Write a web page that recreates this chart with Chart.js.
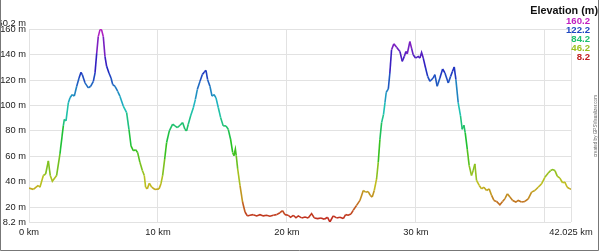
<!DOCTYPE html>
<html>
<head>
<meta charset="utf-8">
<script src="https://cdn.jsdelivr.net/npm/chart.js@4"></script>
<style>
    html, body { margin: 0; padding: 0; background: #fff; }
    #wrap { width: 600px; height: 252px; position: relative; }
</style>
</head>
<body>
<div id="wrap"><canvas id="profile" width="600" height="252"></canvas></div>
<script>
// Профиль высот: расстояние (км) и высота (м)
const distKm = [
    0, 0.34, 0.72, 0.85, 1.11, 1.29, 1.50, 1.65, 1.81, 2.14, 2.40, 2.66, 2.74, 2.87, 3.05, 3.18, 3.36, 3.51, 3.70, 3.88,
    4.03, 4.13, 4.34, 4.60, 4.78, 4.99, 5.12, 5.25, 5.37, 5.50, 5.56, 5.63, 5.76, 5.89, 6.02, 6.20, 6.36, 6.49, 6.67, 6.87,
    7.05, 7.31, 7.57, 7.75, 7.91, 8.09, 8.27, 8.42, 8.60, 8.79, 8.94, 9.04, 9.17, 9.33, 9.51, 9.77, 10.08, 10.23, 10.36, 10.52,
    10.67, 10.88, 11.14, 11.32, 11.50, 11.71, 11.91, 12.09, 12.22, 12.35, 12.53, 12.74, 12.90, 13.05, 13.26, 13.44, 13.60, 13.72, 13.85, 14.03,
    14.19, 14.34, 14.50, 14.68, 14.86, 15.06, 15.27, 15.45, 15.63, 15.79, 15.89, 16.00, 16.07, 16.18, 16.36, 16.56, 16.75, 16.93, 17.13, 17.39,
    17.65, 17.91, 18.17, 18.42, 18.68, 18.94, 19.20, 19.46, 19.66, 19.84, 20.10, 20.28, 20.49, 20.70, 20.88, 21.14, 21.40, 21.65, 21.91, 22.12,
    22.38, 22.64, 22.89, 23.15, 23.33, 23.59, 23.85, 24.11, 24.37, 24.55, 24.75, 24.96, 25.14, 25.40, 25.66, 25.92, 26.10, 26.30, 26.46, 26.61,
    26.77, 26.95, 27.08, 27.21, 27.34, 27.49, 27.60, 27.70, 27.86, 27.98, 28.11, 28.29, 28.50, 28.76, 28.94, 29.10, 29.22, 29.33, 29.53, 29.66,
    29.79, 29.97, 30.18, 30.31, 30.44, 30.57, 30.75, 30.91, 31.09, 31.34, 31.47, 31.65, 31.86, 32.07, 32.25, 32.51, 32.69, 32.84, 32.97, 33.10,
    33.28, 33.46, 33.59, 33.72, 33.82, 33.98, 34.13, 34.31, 34.44, 34.57, 34.70, 34.91, 35.09, 35.27, 35.48, 35.68, 35.87, 36.05, 36.25, 36.51,
    36.72, 36.90, 37.09, 37.29, 37.50, 37.75, 37.93, 38.19, 38.45, 38.71, 38.97, 39.22, 39.48, 39.74, 40.00, 40.26, 40.44, 40.60, 40.78, 40.96,
    41.16, 41.37, 41.55, 41.73, 41.94, 42.025
];
const elevM = [
    34.9, 33.9, 37.0, 35.6, 44.8, 46.0, 56.4, 44.8, 40.3, 44.8, 61.8, 83.9, 89.0, 87.8, 102.1, 106.0, 108.6, 107.3, 115.1, 121.6,
    126.1, 124.3, 117.8, 113.8, 115.1, 119.0, 125.6, 141.2, 154.2, 159.5, 160.2, 159.5, 154.2, 138.6, 130.8, 125.6, 121.6, 116.4, 115.1, 111.2,
    107.3, 99.5, 94.3, 81.2, 68.2, 64.3, 65.1, 63.0, 55.2, 48.7, 44.8, 35.6, 34.3, 38.7, 35.6, 33.8, 34.3, 38.2, 44.8, 57.8,
    70.8, 80.0, 85.2, 83.9, 82.6, 84.4, 86.5, 81.2, 80.0, 85.2, 91.7, 98.2, 104.7, 112.5, 119.0, 124.3, 126.4, 127.6, 120.3, 115.1,
    107.3, 108.6, 106.0, 98.2, 90.4, 83.9, 83.9, 81.2, 73.4, 63.0, 60.4, 65.6, 60.4, 50.0, 37.0, 23.9, 16.1, 13.0, 13.5, 14.0,
    13.0, 14.0, 13.0, 13.5, 12.7, 13.5, 14.0, 15.5, 17.1, 14.0, 13.5, 11.9, 13.5, 11.5, 13.0, 11.4, 12.1, 11.4, 14.8, 11.4,
    10.9, 11.4, 10.4, 11.9, 8.2, 13.0, 11.4, 11.9, 10.9, 14.0, 13.5, 14.5, 17.4, 21.3, 25.2, 33.0, 31.7, 32.2, 29.1, 27.8,
    33.0, 42.1, 55.2, 73.4, 86.5, 93.0, 102.1, 110.4, 113.0, 125.6, 143.8, 148.5, 145.9, 142.5, 134.7, 138.6, 142.5, 140.7, 150.3, 145.1,
    139.9, 137.3, 138.6, 137.3, 141.7, 137.3, 129.5, 122.9, 119.0, 121.6, 124.3, 115.1, 121.6, 128.7, 125.6, 117.7, 122.9, 126.9, 130.3, 120.3,
    102.1, 91.7, 81.2, 84.4, 78.6, 65.6, 52.6, 44.8, 48.7, 54.0, 40.9, 37.0, 34.3, 35.6, 33.0, 34.3, 29.1, 25.2, 24.4, 21.8,
    24.4, 26.5, 30.4, 27.8, 25.2, 23.9, 25.2, 23.9, 24.4, 26.5, 31.7, 33.0, 35.6, 38.2, 43.4, 46.8, 48.7, 49.5, 48.7, 44.3,
    42.7, 39.1, 39.6, 35.6, 34.3, 34.0
];

// Деления осей
const xTicks = [0, 10, 20, 30, 40, 42.025];
const yTicks = [8.2, 20, 40, 60, 80, 100, 120, 140, 160, 160.2];
const legendValues = [160.2, 122.2, 84.2, 46.2, 8.2];

const minElev = 8.2;
const maxElev = 160.2;

// Цвет по высоте: красный (низ) -> пурпурный (верх)
function elevColor(v) {
    const f = Math.max(0, Math.min(1, (v - minElev) / (maxElev - minElev)));
    return `hsl(${Math.round(f * 300)}, 72%, 44%)`;
}

// Рамка, легенда и подпись сайта
const decorPlugin = {
    id: 'decor',
    afterDraw(chart) {
        const ctx = chart.ctx;
        ctx.save();
        ctx.strokeStyle = '#777';
        ctx.lineWidth = 1;
        ctx.beginPath();
        ctx.moveTo(0.5, 0);
        ctx.lineTo(0.5, 250.5);
        ctx.lineTo(598.5, 250.5);
        ctx.lineTo(598.5, 0);
        ctx.stroke();

        ctx.textAlign = 'right';
        ctx.textBaseline = 'middle';
        ctx.fillStyle = '#111';
        ctx.font = 'bold 10.8px "Liberation Sans", Arial, sans-serif';
        ctx.fillText('Elevation (m)', 598, 11);
        ctx.font = 'bold 9.6px "Liberation Sans", Arial, sans-serif';
        legendValues.forEach((v, i) => {
            ctx.fillStyle = elevColor(v);
            ctx.fillText(v.toFixed(1), 590, 21 + i * 9);
        });

        ctx.translate(596, 126);
        ctx.rotate(-Math.PI / 2);
        ctx.textAlign = 'center';
        ctx.fillStyle = '#666';
        ctx.font = '4.6px "Liberation Sans", Arial, sans-serif';
        ctx.fillText('created by GPSVisualizer.com', 0, 0);
        ctx.restore();
    }
};

Chart.defaults.font.family = '"Liberation Sans", Arial, sans-serif';
Chart.defaults.font.size = 9.3;
Chart.defaults.color = '#222';

new Chart(document.getElementById('profile'), {
    type: 'line',
    data: {
        datasets: [{
            data: distKm.map((d, i) => ({ x: d, y: elevM[i] })),
            borderWidth: 1.6,
            pointRadius: 0,
            tension: 0,
            fill: false,
            segment: {
                borderColor: c => elevColor((c.p0.parsed.y + c.p1.parsed.y) / 2)
            }
        }]
    },
    plugins: [decorPlugin],
    options: {
        responsive: false,
        animation: false,
        layout: { padding: { top: 29, right: 29, left: 0, bottom: 0 } },
        plugins: { legend: { display: false }, tooltip: { enabled: false } },
        scales: {
            x: {
                type: 'linear',
                min: 0,
                max: 42.025,
                afterBuildTicks: s => { s.ticks = xTicks.map(v => ({ value: v })); },
                afterFit: s => { s.height = 30; },
                border: { display: false },
                grid: { color: '#e2e2e2', drawTicks: false },
                ticks: {
                    autoSkip: false,
                    maxRotation: 0,
                    padding: 5,
                    callback: v => (v === 40 ? '' : v + ' km')
                }
            },
            y: {
                min: minElev,
                max: maxElev,
                afterBuildTicks: s => { s.ticks = yTicks.map(v => ({ value: v })); },
                afterFit: s => { s.width = 29; },
                border: { display: false },
                grid: { color: '#e2e2e2', drawTicks: false },
                ticks: {
                    autoSkip: false,
                    padding: 3,
                    callback: v => (v === 160.2 ? ['160.2 m', ''] : v + ' m')
                }
            }
        }
    }
});
</script>
</body>
</html>
